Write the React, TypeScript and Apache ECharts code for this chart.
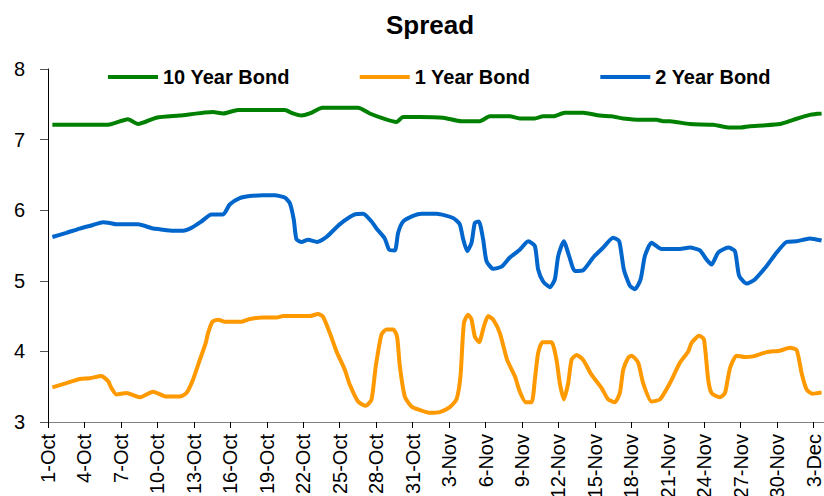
import React, { useEffect, useRef } from "react";
import * as echarts from "echarts";

// Tick labels on the date axis, one every 3 days starting 1-Oct
const dateLabels = [
  "1-Oct", "4-Oct", "7-Oct", "10-Oct", "13-Oct", "16-Oct", "19-Oct", "22-Oct",
  "25-Oct", "28-Oct", "31-Oct", "3-Nov", "6-Nov", "9-Nov", "12-Nov", "15-Nov",
  "18-Nov", "21-Nov", "24-Nov", "27-Nov", "30-Nov", "3-Dec",
];

// [days since 1-Oct, yield %]
const tenYearBond: [number, number][] = [
  [0.36, 7.21], [4.94, 7.21], [6.58, 7.29], [7.41, 7.22], [8.92, 7.31], [10.84, 7.34],
  [13.58, 7.39], [14.4, 7.37], [15.64, 7.42], [19.48, 7.42], [20.16, 7.37], [20.86, 7.34],
  [21.54, 7.37], [22.58, 7.45], [25.51, 7.45], [26.48, 7.37], [27.57, 7.3], [28.67, 7.25],
  [29.22, 7.32], [30.59, 7.32], [32.51, 7.31], [34.02, 7.26], [35.53, 7.26], [36.35, 7.33],
  [38.0, 7.33], [38.82, 7.3], [40.06, 7.3], [40.74, 7.33], [41.56, 7.33], [42.53, 7.38],
  [44.03, 7.38], [45.41, 7.34], [46.37, 7.33], [47.33, 7.3], [48.7, 7.28], [50.07, 7.28],
  [50.62, 7.26], [51.17, 7.26], [52.81, 7.22], [54.73, 7.21], [56.11, 7.17], [56.93, 7.17],
  [57.75, 7.19], [58.85, 7.2], [60.22, 7.22], [61.32, 7.28], [62.69, 7.35], [63.65, 7.37],
];

const oneYearBond: [number, number][] = [
  [0.36, 3.49], [1.51, 3.55], [2.61, 3.61], [3.43, 3.62], [4.39, 3.65], [4.94, 3.58],
  [5.22, 3.48], [5.63, 3.39], [6.45, 3.41], [7.55, 3.35], [8.64, 3.43], [9.74, 3.36],
  [10.84, 3.36], [11.39, 3.41], [11.93, 3.6], [12.49, 3.88], [12.98, 4.12], [13.17, 4.26],
  [13.53, 4.42], [13.99, 4.45], [14.54, 4.42], [15.92, 4.42], [16.6, 4.46], [17.7, 4.48],
  [18.8, 4.48], [19.34, 4.5], [21.54, 4.5], [22.22, 4.53], [22.63, 4.49], [23.19, 4.26],
  [23.74, 4.0], [24.42, 3.74], [24.83, 3.53], [25.51, 3.29], [26.15, 3.23], [26.62, 3.32],
  [26.97, 3.79], [27.44, 4.24], [27.85, 4.31], [28.4, 4.31], [28.72, 4.21], [28.95, 3.79],
  [29.36, 3.36], [29.91, 3.22], [30.59, 3.17], [31.42, 3.13], [32.24, 3.14], [33.06, 3.21],
  [33.61, 3.32], [33.94, 3.65], [34.22, 4.4], [34.57, 4.52], [34.85, 4.45], [35.12, 4.21],
  [35.47, 4.13], [35.86, 4.35], [36.21, 4.5], [36.63, 4.45], [37.18, 4.26], [37.78, 3.88],
  [38.41, 3.65], [38.82, 3.43], [39.32, 3.28], [39.79, 3.28], [40.06, 3.6], [40.33, 3.98],
  [40.69, 4.13], [41.43, 4.13], [41.84, 3.88], [42.11, 3.55], [42.44, 3.32], [42.8, 3.55],
  [43.08, 3.88], [43.49, 3.95], [44.03, 3.88], [44.72, 3.67], [45.55, 3.48], [46.09, 3.32],
  [46.64, 3.28], [47.05, 3.41], [47.33, 3.74], [47.74, 3.91], [48.02, 3.94], [48.56, 3.84],
  [48.97, 3.55], [49.66, 3.29], [50.35, 3.32], [51.17, 3.55], [51.99, 3.84], [52.68, 4.0],
  [52.95, 4.12], [53.58, 4.22], [53.97, 4.17], [54.32, 3.6], [54.6, 3.41], [55.28, 3.35],
  [55.7, 3.41], [56.11, 3.76], [56.66, 3.94], [57.34, 3.92], [58.02, 3.93], [59.13, 3.99],
  [60.22, 4.01], [61.05, 4.05], [61.6, 4.02], [62.01, 3.69], [62.42, 3.46], [62.91, 3.4],
  [63.65, 3.42],
];

const twoYearBond: [number, number][] = [
  [0.36, 5.62], [1.51, 5.68], [2.61, 5.74], [3.7, 5.79], [4.53, 5.83], [5.08, 5.82],
  [5.63, 5.8], [7.41, 5.8], [8.64, 5.74], [9.19, 5.73], [10.29, 5.71], [11.11, 5.71],
  [11.8, 5.75], [12.62, 5.84], [13.45, 5.94], [14.4, 5.94], [14.95, 6.08], [15.78, 6.17],
  [16.6, 6.2], [17.7, 6.21], [18.66, 6.21], [19.48, 6.18], [19.9, 6.1], [20.22, 5.87],
  [20.44, 5.59], [20.86, 5.55], [21.4, 5.58], [22.14, 5.55], [22.91, 5.62], [24.0, 5.8],
  [25.24, 5.94], [25.93, 5.95], [26.62, 5.84], [27.03, 5.74], [27.71, 5.6], [28.07, 5.44],
  [28.54, 5.43], [28.81, 5.68], [29.22, 5.84], [30.04, 5.92], [30.73, 5.95], [31.97, 5.95],
  [33.33, 5.89], [33.88, 5.8], [34.16, 5.59], [34.49, 5.42], [34.85, 5.54], [35.12, 5.82],
  [35.45, 5.84], [35.8, 5.59], [36.08, 5.28], [36.63, 5.17], [37.32, 5.2], [38.0, 5.33],
  [38.82, 5.44], [39.51, 5.56], [40.06, 5.49], [40.33, 5.16], [40.74, 4.99], [41.29, 4.91],
  [41.7, 5.02], [41.98, 5.35], [42.44, 5.56], [42.88, 5.35], [43.35, 5.14], [44.03, 5.15],
  [44.86, 5.33], [45.68, 5.47], [46.5, 5.61], [47.0, 5.56], [47.38, 5.16], [47.88, 4.93],
  [48.29, 4.88], [48.76, 5.02], [49.11, 5.35], [49.66, 5.54], [50.48, 5.45], [51.99, 5.45],
  [52.81, 5.47], [53.64, 5.43], [54.19, 5.3], [54.6, 5.23], [55.14, 5.4], [55.97, 5.47],
  [56.52, 5.42], [56.87, 5.07], [57.48, 4.96], [58.16, 5.02], [59.13, 5.21], [59.95, 5.4],
  [60.77, 5.55], [61.6, 5.56], [62.69, 5.6], [63.65, 5.57],
];

const FONT = '"Liberation Sans", Arial, sans-serif';

export default function App() {
  const ref = useRef<HTMLDivElement>(null);

  useEffect(() => {
    if (!ref.current) return;
    const chart = echarts.init(ref.current, null, { renderer: "svg" });

    const line = (name: string, color: string, data: [number, number][]) => ({
      name,
      type: "line",
      data,
      color,
      showSymbol: false,
      smooth: 0.2,
      lineStyle: { width: 4, color },
    });

    chart.setOption({
      animation: false,
      backgroundColor: "#ffffff",
      title: {
        text: "Spread",
        left: 381,
        top: 7,
        textStyle: { fontFamily: FONT, fontSize: 26, fontWeight: "bold", color: "#000" },
      },
      legend: {
        left: 103,
        top: 62,
        icon: "rect",
        itemWidth: 50,
        itemHeight: 4,
        itemGap: 70,
        textStyle: { fontFamily: FONT, fontSize: 20, fontWeight: "bold", color: "#000" },
        data: ["10 Year Bond", "1 Year Bond", "2 Year Bond"],
      },
      grid: {
        left: 48,
        right: 0,
        top: 69,
        bottom: 74,
        containLabel: false,
        outerBoundsMode: "none",
      },
      xAxis: {
        type: "value",
        min: 0,
        max: 63.85,
        interval: 3,
        splitLine: { show: false },
        axisLine: { lineStyle: { color: "#808080", width: 1 } },
        axisTick: { length: 6, lineStyle: { color: "#000" } },
        axisLabel: {
          rotate: 90,
          margin: 12,
          fontFamily: FONT,
          fontSize: 20,
          color: "#000",
          showMaxLabel: false,
          hideOverlap: false,
          padding: [8, 0, 0, 0],
          formatter: (v: number) => {
            const i = Math.round(v);
            if (Math.abs(v - i) > 1e-6 || i % 3 !== 0) return "";
            return dateLabels[i / 3] ?? "";
          },
        },
      },
      yAxis: {
        type: "value",
        min: 3,
        max: 8,
        interval: 1,
        splitLine: { show: false },
        axisLine: { show: true, lineStyle: { color: "#000", width: 1 } },
        axisTick: { show: true, length: 8, lineStyle: { color: "#555" } },
        axisLabel: { fontFamily: FONT, fontSize: 20, color: "#000", margin: 23 },
      },
      series: [
        line("10 Year Bond", "#008000", tenYearBond),
        line("1 Year Bond", "#FF9900", oneYearBond),
        line("2 Year Bond", "#0066CC", twoYearBond),
      ],
    });

    return () => chart.dispose();
  }, []);

  return (
    <div
      ref={ref}
      style={{ position: "fixed", left: 0, top: 0, width: 824, height: 496 }}
    />
  );
}
